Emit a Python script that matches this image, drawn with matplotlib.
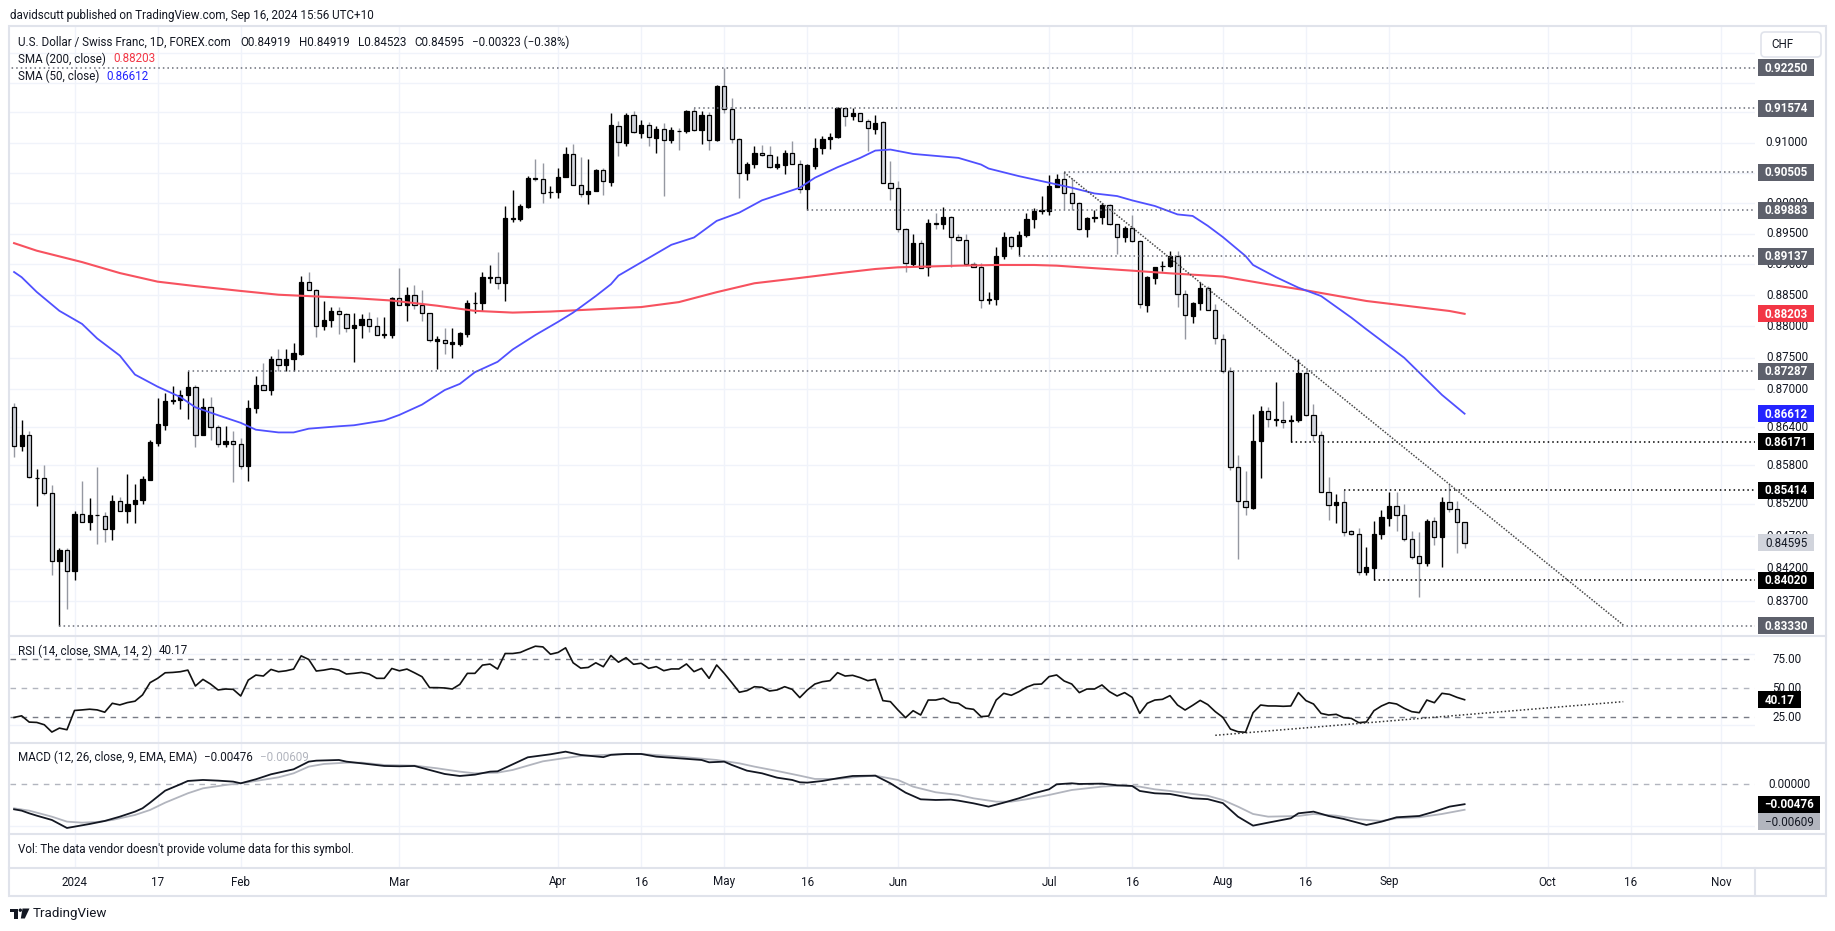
import matplotlib
matplotlib.use("Agg")
import matplotlib.pyplot as plt
from matplotlib.patches import Rectangle, FancyBboxPatch, Circle, Polygon
from matplotlib.ticker import NullLocator

plt.rcParams['font.family'] = ['Roboto', 'DejaVu Sans']

# ---------------- data (bar index 0 = 2 Jan 2024, trading days) ----------------
bar_index = list(range(-8, 185))

opens = [
    0.86713, 0.86100, 0.86279, 0.85600, 0.85600, 0.85375, 0.84316, 0.84485,            # -8..-1
    0.84163, 0.85043, 0.84921, 0.85027, 0.85011, 0.84809, 0.85245, 0.85096, 0.85192, 0.85256,  # 0-9
    0.85578, 0.86154, 0.86441, 0.86815, 0.86821, 0.86904, 0.87040, 0.86279, 0.86713, 0.86398,  # 10-19
    0.86132, 0.86181, 0.86132, 0.85793, 0.86701, 0.87062, 0.86986, 0.87479, 0.87380, 0.87479,  # 20-29
    0.87561, 0.88711, 0.88583, 0.88002, 0.88101, 0.88245, 0.88195, 0.87974, 0.88029, 0.88118,  # 30-39
    0.88007, 0.87864, 0.87864, 0.88461, 0.88345, 0.88500, 0.88345, 0.88212, 0.87770, 0.87786,  # 40-49
    0.87726, 0.87726, 0.87880, 0.88372, 0.88372, 0.88777, 0.88805, 0.88694, 0.89747, 0.89747,  # 50-59
    0.89944, 0.90408, 0.90391, 0.90182, 0.90182, 0.90437, 0.90806, 0.90295, 0.90153, 0.90199,  # 60-69
    0.90550, 0.90352, 0.91282, 0.90994, 0.91452, 0.91158, 0.91297, 0.91076, 0.91231, 0.91038,  # 70-79
    0.91198, 0.91198, 0.91518, 0.91214, 0.91452, 0.91038, 0.91944, 0.91562, 0.91060, 0.90499,  # 80-89
    0.90637, 0.90829, 0.90801, 0.90598, 0.90626, 0.90829, 0.90647, 0.90227, 0.90620, 0.90911,  # 90-99
    0.91060, 0.91092, 0.91574, 0.91435, 0.91490, 0.91363, 0.91231, 0.91336, 0.90336, 0.90243,  # 100-109
    0.89575, 0.89008, 0.89347, 0.88954, 0.89672, 0.89656, 0.89775, 0.89439, 0.89396, 0.89008,  # 110-119
    0.88954, 0.88429, 0.88435, 0.89132, 0.89439, 0.89304, 0.89477, 0.89737, 0.89873, 0.89873,  # 120-129
    0.90270, 0.90390, 0.90161, 0.90009, 0.89575, 0.89764, 0.89780, 0.89970, 0.89656, 0.89439,  # 130-139
    0.89591, 0.89385, 0.88349, 0.88782, 0.88974, 0.88974, 0.89130, 0.88525, 0.88173, 0.88381,  # 140-149
    0.88622, 0.88269, 0.87798, 0.87290, 0.85770, 0.85243, 0.85140, 0.86177, 0.86658, 0.86517,  # 150-159
    0.86517, 0.86490, 0.86506, 0.87264, 0.86595, 0.86281, 0.85388, 0.85176, 0.85228, 0.84779,  # 160-169
    0.84728, 0.84156, 0.84217, 0.84728, 0.84985, 0.85166, 0.85022, 0.84651, 0.84391, 0.84293,  # 170-179
    0.84933, 0.84692, 0.85228, 0.85114, 0.84919,                                               # 180-184
]
highs = [
    0.86778, 0.86517, 0.86344, 0.85739, 0.85808, 0.85498, 0.84511, 0.84522,
    0.85086, 0.85562, 0.85284, 0.85776, 0.85070, 0.85337, 0.85311, 0.85669, 0.85514, 0.85642,
    0.86197, 0.86864, 0.86942, 0.87051, 0.86986, 0.87287, 0.87068, 0.86864, 0.86876, 0.86441,
    0.86425, 0.86333, 0.86224, 0.86821, 0.87204, 0.87413, 0.87534, 0.87643, 0.87643, 0.87737,
    0.88817, 0.88872, 0.88611, 0.88417, 0.88306, 0.88317, 0.88223, 0.88212, 0.88206, 0.88234,
    0.88151, 0.88151, 0.88472, 0.88944, 0.88639, 0.88667, 0.88583, 0.88223, 0.87852, 0.87974,
    0.87974, 0.87907, 0.88428, 0.88555, 0.88872, 0.88989, 0.89207, 0.89955, 0.90221, 0.89983,
    0.90448, 0.90732, 0.90663, 0.90278, 0.90578, 0.90920, 0.90977, 0.90760, 0.90732, 0.90561,
    0.90578, 0.91493, 0.91353, 0.91490, 0.91518, 0.91380, 0.91341, 0.91270, 0.91325, 0.91253,
    0.91242, 0.91545, 0.91573, 0.91529, 0.91507, 0.91961, 0.92250, 0.91738, 0.91076, 0.90681,
    0.90950, 0.90966, 0.90939, 0.90774, 0.90884, 0.91032, 0.90703, 0.90637, 0.91076, 0.91103,
    0.91159, 0.91584, 0.91580, 0.91573, 0.91495, 0.91396, 0.91452, 0.91353, 0.90701, 0.90363,
    0.89602, 0.89504, 0.89396, 0.89737, 0.89846, 0.89938, 0.89791, 0.89504, 0.89504, 0.89035,
    0.89019, 0.88552, 0.89277, 0.89531, 0.89466, 0.89537, 0.89835, 0.89927, 0.90117, 0.90461,
    0.90480, 0.90505, 0.90417, 0.90025, 0.89775, 0.89884, 0.90009, 0.89981, 0.89667, 0.89629,
    0.89808, 0.89396, 0.88814, 0.88964, 0.89060, 0.89223, 0.89223, 0.88589, 0.88392, 0.88713,
    0.88659, 0.88365, 0.87883, 0.87358, 0.85968, 0.85719, 0.86611, 0.86737, 0.86711, 0.87121,
    0.86805, 0.86595, 0.87480, 0.87295, 0.86768, 0.86333, 0.85615, 0.85356, 0.85414, 0.84789,
    0.84830, 0.84533, 0.84933, 0.85099, 0.85388, 0.85388, 0.85192, 0.84779, 0.84769, 0.84959,
    0.84995, 0.85305, 0.85502, 0.85243, 0.84919,
]
lows = [
    0.85938, 0.86019, 0.85600, 0.85161, 0.85337, 0.84099, 0.83330, 0.83579,
    0.84025, 0.84920, 0.84788, 0.84575, 0.84617, 0.84644, 0.85090, 0.84899, 0.84899, 0.85192,
    0.85570, 0.86100, 0.86360, 0.86767, 0.86685, 0.86522, 0.86089, 0.86270, 0.86197, 0.86089,
    0.86089, 0.85535, 0.85739, 0.85551, 0.86631, 0.86980, 0.86904, 0.87286, 0.87286, 0.87286,
    0.87544, 0.88580, 0.87836, 0.87946, 0.87985, 0.87874, 0.87907, 0.87440, 0.87819, 0.87919,
    0.87860, 0.87819, 0.87808, 0.88340, 0.88085, 0.88278, 0.88085, 0.87753, 0.87314, 0.87561,
    0.87489, 0.87682, 0.87836, 0.88223, 0.88251, 0.88694, 0.88611, 0.88417, 0.89690, 0.89713,
    0.89915, 0.90369, 0.90011, 0.90085, 0.90079, 0.90425, 0.90295, 0.90108, 0.89994, 0.90193,
    0.90131, 0.90278, 0.90774, 0.90939, 0.91160, 0.91076, 0.90939, 0.90829, 0.90118, 0.90994,
    0.90884, 0.91158, 0.91187, 0.90977, 0.90884, 0.91021, 0.91490, 0.90994, 0.90080, 0.90374,
    0.90581, 0.90774, 0.90581, 0.90570, 0.90472, 0.90637, 0.90172, 0.89883, 0.90570, 0.90812,
    0.90900, 0.91076, 0.91269, 0.91380, 0.91352, 0.90856, 0.91142, 0.90330, 0.90047, 0.89536,
    0.88873, 0.88981, 0.88940, 0.88819, 0.89575, 0.89575, 0.88954, 0.89385, 0.88981, 0.88954,
    0.88301, 0.88365, 0.88339, 0.89089, 0.89250, 0.89137, 0.89450, 0.89602, 0.89819, 0.89808,
    0.90265, 0.89900, 0.89884, 0.89559, 0.89450, 0.89694, 0.89656, 0.89645, 0.89169, 0.89358,
    0.89358, 0.88296, 0.88232, 0.88686, 0.88900, 0.88953, 0.88312, 0.87806, 0.88057, 0.88259,
    0.88259, 0.87714, 0.87253, 0.85734, 0.84345, 0.85022, 0.85114, 0.85605, 0.86396, 0.86412,
    0.86386, 0.86171, 0.86480, 0.86569, 0.86177, 0.85380, 0.84950, 0.84909, 0.84702, 0.84720,
    0.84105, 0.84105, 0.84020, 0.84662, 0.84856, 0.84779, 0.84626, 0.84345, 0.83760, 0.84242,
    0.84564, 0.84227, 0.85078, 0.84447, 0.84523,
]
closes = [
    0.86100, 0.86279, 0.85616, 0.85610, 0.85375, 0.84316, 0.84485, 0.84163,
    0.85043, 0.84926, 0.85027, 0.85020, 0.84809, 0.85245, 0.85096, 0.85203, 0.85256, 0.85589,
    0.86170, 0.86452, 0.86810, 0.86825, 0.86904, 0.87040, 0.86279, 0.86713, 0.86398, 0.86132,
    0.86181, 0.86132, 0.85793, 0.86701, 0.87062, 0.86986, 0.87479, 0.87380, 0.87479, 0.87572,
    0.88711, 0.88583, 0.88002, 0.88101, 0.88251, 0.88195, 0.87974, 0.88029, 0.88118, 0.88007,
    0.87864, 0.87886, 0.88461, 0.88345, 0.88500, 0.88345, 0.88212, 0.87781, 0.87792, 0.87742,
    0.87753, 0.87891, 0.88372, 0.88378, 0.88794, 0.88805, 0.88694, 0.89758, 0.89752, 0.89955,
    0.90408, 0.90391, 0.90165, 0.90186, 0.90437, 0.90806, 0.90295, 0.90153, 0.90199, 0.90550,
    0.90363, 0.91292, 0.91005, 0.91452, 0.91169, 0.91297, 0.91087, 0.91231, 0.91049, 0.91203,
    0.91193, 0.91518, 0.91214, 0.91452, 0.91049, 0.91944, 0.91562, 0.91060, 0.90499, 0.90637,
    0.90829, 0.90801, 0.90598, 0.90637, 0.90829, 0.90647, 0.90227, 0.90626, 0.90911, 0.91065,
    0.91098, 0.91574, 0.91435, 0.91490, 0.91363, 0.91242, 0.91325, 0.90336, 0.90243, 0.89575,
    0.89024, 0.89347, 0.88943, 0.89672, 0.89665, 0.89775, 0.89450, 0.89396, 0.89008, 0.88965,
    0.88429, 0.88445, 0.89132, 0.89439, 0.89304, 0.89482, 0.89737, 0.89873, 0.89884, 0.90281,
    0.90390, 0.90161, 0.90009, 0.89575, 0.89764, 0.89780, 0.89970, 0.89656, 0.89439, 0.89591,
    0.89385, 0.88355, 0.88793, 0.88953, 0.88980, 0.89130, 0.88515, 0.88179, 0.88381, 0.88622,
    0.88269, 0.87815, 0.87290, 0.85770, 0.85243, 0.85150, 0.86177, 0.86658, 0.86532, 0.86532,
    0.86480, 0.86517, 0.87264, 0.86595, 0.86281, 0.85388, 0.85176, 0.85228, 0.84769, 0.84728,
    0.84156, 0.84227, 0.84728, 0.84995, 0.85166, 0.85022, 0.84651, 0.84381, 0.84293, 0.84933,
    0.84692, 0.85228, 0.85114, 0.84917, 0.84595,
]

sma200_idx = [-8, -5, 1, 6, 11, 16, 22, 27, 32, 37, 42, 48, 53, 58, 63, 69, 75, 80, 85, 90,
              96, 101, 106, 109, 117, 122, 127, 130, 135, 140, 145, 152, 158, 163, 171, 182, 184]
sma200_val = [0.89347, 0.89224, 0.89039, 0.88861, 0.88722, 0.88650, 0.88572, 0.88511, 0.88483, 0.88456,
              0.88417, 0.88334, 0.88251, 0.88223, 0.88240, 0.88276, 0.88312, 0.88392, 0.88552, 0.88696,
              0.88782, 0.88857, 0.88927, 0.88954, 0.88981, 0.88992, 0.88992, 0.88981, 0.88940, 0.88900,
              0.88857, 0.88805, 0.88679, 0.88582, 0.88410, 0.88249, 0.88203]

sma50_idx = [-8, -7, -5, -2, 1, 3, 6, 8, 11, 14, 16, 19, 22, 24, 27, 29, 31, 35, 37, 41, 43, 46,
             49, 51, 53, 56, 58, 61, 64, 66, 69, 71, 72, 75, 79, 82, 85, 88, 91, 96, 98, 101, 104,
             106, 108, 111, 117, 120, 121, 125, 129, 132, 135, 138, 140, 143, 146, 148, 150, 152,
             155, 156, 159, 162, 165, 169, 171, 176, 178, 181, 184]
sma50_val = [0.88878, 0.88794, 0.88555, 0.88251, 0.88041, 0.87808, 0.87534, 0.87232, 0.87040, 0.86876,
             0.86713, 0.86588, 0.86468, 0.86360, 0.86317, 0.86317, 0.86376, 0.86414, 0.86430, 0.86506,
             0.86593, 0.86756, 0.86986, 0.87084, 0.87270, 0.87435, 0.87632, 0.87863, 0.88074, 0.88223,
             0.88490, 0.88680, 0.88820, 0.89034, 0.89320, 0.89439, 0.89710, 0.89846, 0.90047, 0.90254,
             0.90418, 0.90592, 0.90746, 0.90867, 0.90884, 0.90812, 0.90746, 0.90636, 0.90570, 0.90445,
             0.90336, 0.90254, 0.90160, 0.90117, 0.90046, 0.89954, 0.89816, 0.89791, 0.89630, 0.89446,
             0.89138, 0.88992, 0.88797, 0.88625, 0.88490, 0.88143, 0.87955, 0.87500, 0.87264, 0.86910,
             0.86612]

rsi_val = [
    24.9, 26.3, 20.9, 20.6, 18.6, 12.3, 15.7, 14.3,
    30.9, 31.4, 32.0, 31.4, 29.4, 37.1, 35.7, 37.7, 38.9, 44.3,
    54.9, 58.6, 63.4, 63.7, 64.3, 65.7, 52.0, 57.7, 53.7, 48.6,
    49.4, 49.1, 43.4, 57.1, 61.4, 60.6, 66.3, 64.3, 65.1, 66.6,
    78.0, 74.9, 64.9, 65.7, 66.9, 65.7, 62.3, 62.9, 63.7, 62.3,
    58.6, 58.6, 67.1, 65.1, 66.6, 63.4, 60.0, 50.6, 50.6, 50.3,
    49.4, 53.4, 62.9, 62.9, 70.0, 70.9, 66.6, 80.0, 80.0, 80.9,
    83.7, 86.3, 85.7, 79.4, 80.9, 84.9, 72.0, 67.4, 68.0, 72.0,
    68.6, 78.3, 72.5, 76.4, 70.7, 71.6, 67.2, 68.7, 65.2, 66.7,
    66.7, 71.0, 64.4, 67.2, 58.6, 70.1, 62.9, 54.9, 46.6, 48.0,
    51.4, 50.9, 47.7, 48.6, 51.4, 49.1, 42.0, 48.6, 53.7, 55.7,
    56.6, 63.5, 60.6, 61.2, 59.2, 56.6, 57.8, 39.4, 38.5, 31.3,
    24.7, 30.7, 27.0, 39.9, 39.9, 41.4, 37.9, 37.1, 32.8, 31.9,
    25.6, 26.1, 39.9, 45.7, 44.0, 47.1, 50.9, 53.4, 53.7, 60.1,
    61.5, 56.3, 53.7, 46.3, 49.4, 49.4, 52.9, 47.1, 43.4, 46.3,
    42.2, 28.4, 37.1, 39.9, 40.5, 43.7, 35.6, 31.3, 35.3, 39.6,
    36.0, 29.9, 25.0, 14.9, 12.6, 12.1, 29.0, 35.6, 34.8, 34.8,
    34.5, 34.8, 46.3, 39.4, 36.5, 28.4, 27.0, 27.6, 24.7, 24.1,
    20.4, 21.0, 30.7, 34.8, 37.6, 36.5, 32.8, 29.9, 29.0, 39.9,
    37.6, 45.7, 44.8, 42.2, 40.17,
]

macd_idx = [-8, -7, -6, -5, -3, -2, -1, 0, 2, 4, 6, 8, 9, 10, 11, 12, 14, 15, 17, 19, 21, 22,
            24, 26, 29, 31, 32, 35, 36, 38, 41, 43, 45, 47, 49, 51, 53, 55, 56, 58, 60, 63, 65,
            67, 70, 71, 73, 75, 77, 80, 83, 84, 86, 87, 89, 91, 93, 95, 96, 97, 99, 101, 103,
            106, 108, 110, 112, 114, 116, 117, 119, 121, 123, 125, 127, 129, 130, 132, 133, 136,
            138, 140, 141, 143, 145, 148, 150, 152, 154, 156, 158, 161, 162, 164, 166, 168, 171,
            173, 175, 178, 180, 182, 184]
macd_val = [-0.00598, -0.00630, -0.00694, -0.00750, -0.00853, -0.00949, -0.01045, -0.01013, -0.00949,
            -0.00877, -0.00774, -0.00654, -0.00574, -0.00439, -0.00295, -0.00152, 0.00000, 0.00080,
            0.00104, 0.00088, 0.00064, 0.00024, 0.00120, 0.00239, 0.00359, 0.00542, 0.00566, 0.00582,
            0.00542, 0.00502, 0.00439, 0.00431, 0.00439, 0.00343, 0.00247, 0.00199, 0.00231, 0.00303,
            0.00311, 0.00478, 0.00646, 0.00718, 0.00781, 0.00702, 0.00650, 0.00705, 0.00726, 0.00726,
            0.00662, 0.00622, 0.00582, 0.00526, 0.00542, 0.00463, 0.00327, 0.00263, 0.00159, 0.00104,
            0.00048, 0.00040, 0.00080, 0.00144, 0.00199, 0.00207, 0.00024, -0.00199, -0.00359, -0.00375,
            -0.00367, -0.00391, -0.00455, -0.00534, -0.00439, -0.00335, -0.00215, -0.00120, 0.00000,
            0.00024, 0.00008, 0.00016, -0.00024, -0.00040, -0.00159, -0.00215, -0.00231, -0.00335,
            -0.00355, -0.00450, -0.00774, -0.00989, -0.00917, -0.00813, -0.00694, -0.00654, -0.00758,
            -0.00829, -0.00973, -0.00893, -0.00789, -0.00758, -0.00654, -0.00534, -0.00476]

signal_idx = [-8, -6, -3, -1, 1, 3, 5, 8, 10, 12, 15, 17, 20, 22, 24, 27, 29, 31, 33, 36, 38, 41,
              45, 48, 51, 53, 56, 58, 60, 62, 65, 67, 69, 72, 75, 80, 85, 88, 90, 93, 96, 98, 101,
              104, 106, 109, 111, 114, 117, 119, 122, 124, 126, 129, 132, 136, 139, 141, 143, 145,
              148, 150, 152, 154, 156, 158, 162, 164, 167, 170, 173, 175, 178, 181, 184]
signal_val = [-0.00574, -0.00630, -0.00774, -0.00893, -0.00917, -0.00901, -0.00853, -0.00734, -0.00614,
              -0.00439, -0.00215, -0.00096, -0.00016, 0.00024, 0.00080, 0.00167, 0.00263, 0.00423,
              0.00486, 0.00518, 0.00518, 0.00463, 0.00447, 0.00383, 0.00303, 0.00263, 0.00279, 0.00343,
              0.00447, 0.00550, 0.00630, 0.00678, 0.00694, 0.00718, 0.00726, 0.00662, 0.00582, 0.00502,
              0.00423, 0.00319, 0.00207, 0.00128, 0.00128, 0.00183, 0.00207, 0.00104, -0.00056, -0.00191,
              -0.00255, -0.00335, -0.00415, -0.00415, -0.00359, -0.00255, -0.00136, -0.00056, -0.00024,
              -0.00056, -0.00120, -0.00159, -0.00231, -0.00275, -0.00375, -0.00534, -0.00710, -0.00774,
              -0.00758, -0.00710, -0.00750, -0.00837, -0.00877, -0.00813, -0.00789, -0.00710, -0.00609]

level_prices = [0.92250, 0.91574, 0.90505, 0.89883, 0.89137, 0.87287, 0.86171, 0.85414, 0.84020, 0.83330]
level_start = [-9, 82, 131, 97, 125, 15, 161, 168, 172, -2]
level_dark = [False, False, False, False, False, False, True, True, True, False]

trend_idx = [131, 205]
trend_val = [0.90505, 0.83340]
rsi_trend_idx = [151, 205]
rsi_trend_val = [9.5, 38.5]

price_ticks = [0.91, 0.90, 0.895, 0.89, 0.885, 0.88, 0.875, 0.87, 0.864, 0.858, 0.852, 0.847, 0.842, 0.837]
grid_prices = [0.925, 0.92, 0.915, 0.91, 0.905, 0.90, 0.895, 0.89, 0.885, 0.88, 0.875, 0.87,
               0.864, 0.858, 0.852, 0.847, 0.842, 0.837]
time_idx = [0, 11, 22, 43, 64, 75, 86, 97, 109, 129, 140, 152, 163, 174, 195, 206, 218]
time_lbl = ["2024", "17", "Feb", "Mar", "Apr", "16", "May", "16", "Jun", "Jul", "16", "Aug",
            "16", "Sep", "Oct", "16", "Nov"]

# ---------------- layout ----------------
W, H = 1835, 931
fig = plt.figure(figsize=(W / 100, H / 100), dpi=100)
fig.patch.set_facecolor("white")
TXT = "#131722"
GRID = "#f0f3fa"
SEP = "#e0e3eb"
FS = 8.4

PL, PR = 10, 1755
XMIN, XMAX = -8.54, 222.44
TOP, MAIN_B, RSI_B, MACD_B, VOL_B, AX_B = 27, 636, 742.5, 834.3, 868, 896


def mk(y0, y1, log=False):
    ax = fig.add_axes([PL / W, 1 - y1 / H, (PR - PL) / W, (y1 - y0) / H])
    ax.set_xlim(XMIN, XMAX)
    if log:
        ax.set_yscale("log")
    ax.set_xticks([])
    ax.set_yticks([])
    ax.xaxis.set_minor_locator(NullLocator())
    ax.yaxis.set_minor_locator(NullLocator())
    for s in ax.spines.values():
        s.set_visible(False)
    ax.patch.set_visible(False)
    for i in time_idx:
        ax.axvline(i, color=GRID, lw=1, zorder=0)
    return ax


ax = mk(TOP, MAIN_B, log=True)
ax.set_ylim(0.83173, 0.92937)
ax_rsi = mk(MAIN_B, RSI_B)
ax_rsi.set_ylim(3.3, 95.1)
ax_macd = mk(RSI_B, MACD_B)
ax_macd.set_ylim(-0.01196, 0.0100)
ax_vol = mk(MACD_B, VOL_B)
ax_vol.set_ylim(0, 1)
ax_time = mk(VOL_B, AX_B)
for ln in list(ax_time.lines):
    ln.remove()
ax_time.set_ylim(0, 1)

overlay = fig.add_axes([0, 0, 1, 1], zorder=20)
overlay.set_xlim(0, W)
overlay.set_ylim(H, 0)
overlay.axis("off")
overlay.patch.set_visible(False)

# ---------------- main pane ----------------
for v in grid_prices:
    ax.axhline(v, color=GRID, lw=1, zorder=0)

up = [c >= o for o, c in zip(opens, closes)]
ax.vlines([i for i, u in zip(bar_index, up) if not u],
          [l for l, u in zip(lows, up) if not u],
          [h for h, u in zip(highs, up) if not u], color="#9598a1", lw=1.0, zorder=3)
ax.vlines([i for i, u in zip(bar_index, up) if u],
          [l for l, u in zip(lows, up) if u],
          [h for h, u in zip(highs, up) if u], color="#000000", lw=1.0, zorder=3)
bottoms = [min(o, c) for o, c in zip(opens, closes)]
heights = [max(abs(c - o), 1e-6) for o, c in zip(opens, closes)]
ax.bar(bar_index, heights, bottom=bottoms, width=0.56,
       color=["#000000" if u else "#d1d4dc" for u in up],
       edgecolor="#000000", linewidth=0.9, zorder=4)

ax.plot(sma200_idx, sma200_val, color="#f7525f", lw=1.5, zorder=5)
ax.plot(sma50_idx, sma50_val, color="#5050ff", lw=1.3, zorder=5)

for v, s, dark in zip(level_prices, level_start, level_dark):
    ax.hlines(v, s, XMAX, colors="#000000" if dark else "#6a6d78",
              linestyles=(0, (1, 2)), lw=1.1, zorder=6)
ax.plot(trend_idx, trend_val, color="#4a4a4a", ls=(0, (1, 1)), lw=1.1, zorder=6)

# ---------------- RSI pane ----------------
ax_rsi.axhline(80, color=GRID, lw=1, zorder=0)
ax_rsi.axhline(18, color=GRID, lw=1, zorder=0)
ax_rsi.axhline(75, color="#787b86", lw=1, ls=(0, (4, 4)), zorder=1)
ax_rsi.axhline(50, color="#b2b5be", lw=1, ls=(0, (4, 4)), zorder=1)
ax_rsi.axhline(25, color="#787b86", lw=1, ls=(0, (4, 4)), zorder=1)
ax_rsi.plot(bar_index, rsi_val, color="#111111", lw=1.2, zorder=3)
ax_rsi.plot(rsi_trend_idx, rsi_trend_val, color="#333333", ls=(0, (1, 1.5)), lw=1.1, zorder=3)

# ---------------- MACD pane ----------------
ax_macd.axhline(-0.01, color=GRID, lw=1, zorder=0)
ax_macd.axhline(0, color="#b2b5be", lw=1, ls=(0, (4, 4)), zorder=1)
ax_macd.plot(signal_idx, signal_val, color="#b2b5be", lw=1.3, zorder=2)
ax_macd.plot(macd_idx, macd_val, color="#131722", lw=1.3, zorder=3)

# ---------------- time axis ----------------
for i, t in zip(time_idx, time_lbl):
    ax_time.text(i, 0.5, t, ha="center", va="center", fontsize=FS, color=TXT)

# ---------------- frame & separators ----------------
overlay.add_patch(Rectangle((9, 26), 1817, 870, fill=False, ec=SEP, lw=1.5, zorder=1))
for y in (MAIN_B, RSI_B, MACD_B, VOL_B):
    overlay.plot([9, 1826], [y, y], color=SEP, lw=1.5, zorder=1)
overlay.plot([PR, PR], [VOL_B, AX_B], color=SEP, lw=1.5, zorder=1)


def ypx(a, v):
    return H - a.transData.transform((0, v))[1]


# price axis labels
for v in price_ticks:
    overlay.text(1787, ypx(ax, v), f"{v:.5f}", ha="center", va="center", fontsize=FS, color=TXT, zorder=2)


def tag(a, v, text, fc, tc, w=56, dy=0.0, bold=True, x0=1758):
    y = ypx(a, v) + dy
    overlay.add_patch(Rectangle((x0, y - 8.5), w, 17, fc=fc, ec="none", zorder=5))
    overlay.text(x0 + w / 2, y + 0.5, text, ha="center", va="center", fontsize=FS, color=tc,
                 fontweight="bold" if bold else "normal", zorder=6)


GREY_TAG = "#5d606b"
for v, dark in zip(level_prices, level_dark):
    tag(ax, v, f"{v:.5f}", "#000000" if dark else GREY_TAG, "white")
tag(ax, 0.88203, "0.88203", "#f23645", "white")
tag(ax, 0.86612, "0.86612", "#2424ff", "white")
tag(ax, 0.84595, "0.84595", "#d1d4dc", TXT, bold=False)

# CHF box
overlay.add_patch(FancyBboxPatch((1761, 32), 60, 25, boxstyle="round,pad=0,rounding_size=4",
                                 fc="white", ec=SEP, lw=1.2, zorder=7))
overlay.text(1771, 45, "CHF", ha="left", va="center", fontsize=FS, color=TXT, zorder=8)

# RSI axis
for v in (75, 50, 25):
    overlay.text(1787, ypx(ax_rsi, v), f"{v:.2f}", ha="center", va="center", fontsize=FS, color=TXT, zorder=2)
tag(ax_rsi, 40.17, "40.17", "#000000", "white", w=43)

# MACD axis
overlay.text(1789, ypx(ax_macd, 0.0), "0.00000", ha="center", va="center", fontsize=FS, color=TXT, zorder=2)
tag(ax_macd, -0.00476, "\u22120.00476", "#000000", "white", w=62)
tag(ax_macd, -0.00609, "\u22120.00609", "#b2b5be", TXT, w=62, dy=12, bold=False)

# ---------------- texts ----------------
renderer = fig.canvas.get_renderer()


def chain(x, y, parts, size=FS):
    for txt, col, gap in parts:
        t = overlay.text(x, y, txt, color=col, fontsize=size, ha="left", va="center", zorder=3)
        bb = t.get_window_extent(renderer)
        x = bb.x1 + gap


overlay.text(10, 15, "davidscutt published on TradingView.com, Sep 16, 2024 15:56 UTC+10",
             ha="left", va="center", fontsize=FS, color=TXT)
chain(18, 42.5, [("U.S. Dollar / Swiss Franc, 1D, FOREX.com", TXT, 10),
                 ("O0.84919", TXT, 8), ("H0.84919", TXT, 8), ("L0.84523", TXT, 8),
                 ("C0.84595", TXT, 8), ("\u22120.00323 (\u22120.38%)", TXT, 8)])
chain(18, 59, [("SMA (200, close)", TXT, 7), ("0.88203", "#f23645", 0)])
chain(18, 76, [("SMA (50, close)", TXT, 7), ("0.86612", "#2424ff", 0)])
chain(18, 651, [("RSI (14, close, SMA, 14, 2)", TXT, 7), ("40.17", TXT, 0)])
chain(18, 757.5, [("MACD (12, 26, close, 9, EMA, EMA)", TXT, 7), ("\u22120.00476", TXT, 7),
                  ("\u22120.00609", "#b2b5be", 0)])
overlay.text(18, 850, "Vol: The data vendor doesn't provide volume data for this symbol.",
             ha="left", va="center", fontsize=FS, color=TXT)

# TradingView logo
overlay.add_patch(Rectangle((10, 908.5), 7.5, 3, fc="#131722", ec="none"))
overlay.add_patch(Rectangle((14, 908.5), 3.5, 10, fc="#131722", ec="none"))
overlay.add_patch(Circle((20.3, 910.2), 1.7, fc="#131722", ec="none"))
overlay.add_patch(Polygon([(22.5, 908.5), (29.5, 908.5), (24.8, 918.5), (20.8, 918.5)],
                          closed=True, fc="#131722", ec="none"))
overlay.text(33, 913.5, "TradingView", ha="left", va="center", fontsize=9.6, color=TXT)

fig.savefig("out.png", dpi=100, facecolor="white")
